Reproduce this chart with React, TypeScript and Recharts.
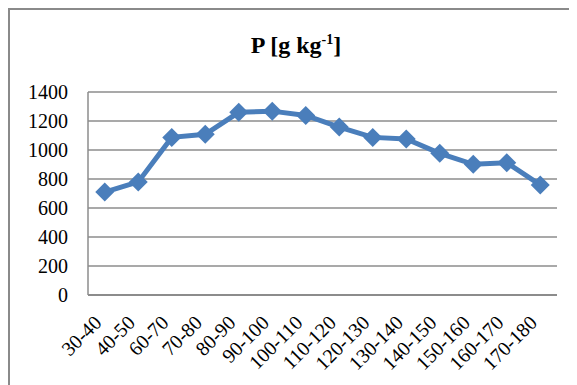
import React from "react";
import { LineChart, Line, XAxis, YAxis, CartesianGrid } from "recharts";

// depth classes (cm) and P content
const depths = [
  "30-40", "40-50", "60-70", "70-80", "80-90", "90-100", "100-110",
  "110-120", "120-130", "130-140", "140-150", "150-160", "160-170", "170-180",
];
const pValues = [710, 780, 1087, 1108, 1260, 1268, 1238, 1158, 1087, 1076, 977, 901, 912, 759];
const yTicks = [0, 200, 400, 600, 800, 1000, 1200, 1400];

const data = depths.map((depth, i) => ({ depth, p: pValues[i] }));

const BLUE = "#4a7ebb";
const GRID = "#8c8c8c";
const FONT = "'Liberation Serif', 'Times New Roman', serif";

const Diamond = (props: any) => {
  const { cx, cy } = props;
  if (cx == null || cy == null) return null;
  const r = 9.5;
  return (
    <path
      d={`M${cx},${cy - r}L${cx + r},${cy}L${cx},${cy + r}L${cx - r},${cy}Z`}
      fill={BLUE}
    />
  );
};

const SlantTick = (props: any) => {
  const { x, y, payload } = props;
  return (
    <g transform={`translate(${x - 2},${y + 29}) rotate(-45)`}>
      <text x={0} y={0} textAnchor="end" fontFamily={FONT} fontSize={20} fill="#000">
        {payload.value}
      </text>
    </g>
  );
};

export default function App() {
  return (
    <div
      style={{
        position: "relative",
        width: 569,
        height: 377,
        overflow: "hidden",
        background: "#fff",
      }}
    >
      <div
        style={{
          position: "absolute",
          left: 0,
          top: 0,
          width: 620,
          height: 420,
          borderLeft: "2px solid #8a8a8a",
          borderTop: "2px solid #8a8a8a",
        }}
      />
      <div
        style={{
          position: "absolute",
          left: 188,
          top: 25,
          width: 200,
          textAlign: "center",
          fontFamily: FONT,
          fontWeight: "bold",
          fontSize: 24,
          lineHeight: 1,
        }}
      >
        P [g kg<sup style={{ fontSize: 14, verticalAlign: "9px", lineHeight: 0 }}>-1</sup>]
      </div>
      <div style={{ position: "absolute", left: 0, top: 0 }}>
        <LineChart
          width={569}
          height={377}
          data={data}
          margin={{ top: 84, right: 20, bottom: 0, left: 0 }}
        >
          <CartesianGrid vertical={false} stroke={GRID} strokeWidth={1.5} />
          <XAxis
            dataKey="depth"
            interval={0}
            height={90}
            tickLine={false}
            tickSize={0}
            tickMargin={0}
            axisLine={{ stroke: GRID, strokeWidth: 2 }}
            padding={{ left: 16.75, right: 16.75 }}
            tick={<SlantTick />}
          />
          <YAxis
            domain={[0, 1400]}
            ticks={yTicks}
            width={80}
            tickLine={false}
            tickSize={0}
            tickMargin={20}
            axisLine={{ stroke: GRID, strokeWidth: 1.5 }}
            tick={{ fontFamily: FONT, fontSize: 20, fill: "#000" }}
          />
          <Line
            dataKey="p"
            stroke={BLUE}
            strokeWidth={5}
            dot={<Diamond />}
            activeDot={false}
            isAnimationActive={false}
          />
        </LineChart>
      </div>
    </div>
  );
}
